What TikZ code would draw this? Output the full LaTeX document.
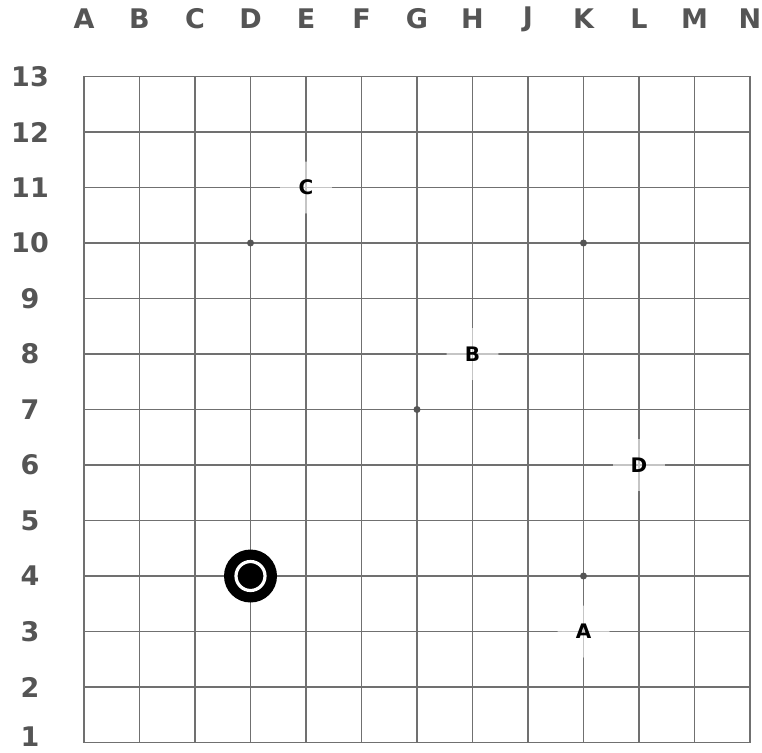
\documentclass[tikz,border=0pt]{standalone}
\usepackage{fontspec}
\setmainfont{DejaVu Sans}
\definecolor{lbl}{HTML}{555555}
\definecolor{gridc}{HTML}{707070}
\definecolor{starc}{HTML}{555555}
\begin{document}
\begin{tikzpicture}[x=1pt,y=-1pt,
  coordlabel/.style={text=lbl,font=\fontsize{27}{27}\selectfont\bfseries,inner sep=0pt},
  gridline/.style={draw=gridc,line width=1.3pt},
  starpt/.style={circle,fill=starc,inner sep=0pt,minimum size=7pt},
  marklabel/.style={circle,fill=white,fill opacity=0.6,text opacity=1,text=black,font=\fontsize{20}{20}\selectfont\bfseries,inner sep=0pt,minimum size=52pt}
]
\useasboundingbox (0,0) rectangle (762,752);
\fill[white] (0,0) rectangle (762,752);
% grid
\foreach \i in {0,...,12}{
  \draw[gridline] ({84+55.5*\i},76.5) -- ({84+55.5*\i},742.5);
  \draw[gridline] (84,{76.5+55.5*\i}) -- (750,{76.5+55.5*\i});
}
\draw[draw=gridc,line width=1.8pt] (84,76.5) rectangle (750,742.5);
% column labels
\foreach \l [count=\i from 0] in {A,B,C,D,E,F,G,H,J,K,L,M,N}{
  \node[coordlabel] (col\l) at ({84+55.5*\i},19) {\l};
}
% row labels
\foreach \r in {2,...,13}{
  \node[coordlabel] (row\r) at (30,{76.5+55.5*(13-\r)}) {\r};
}
\node[coordlabel] (row1) at (30,736.5) {1};
% star points
\node[starpt] (sD10) at (250.5,243) {};
\node[starpt] (sK10) at (583.5,243) {};
\node[starpt] (sG7) at (417,409.5) {};
\node[starpt] (sK4) at (583.5,576) {};
% stone
\node[circle,fill=black,inner sep=0pt,minimum size=53pt] (stone) at (250.5,576) {};
\draw[white,line width=3.2pt] (stone.center) circle (14.5);
% markers
\node[marklabel] (mC) at (306,187.5) {C};
\node[marklabel] (mB) at (472.5,354) {B};
\node[marklabel] (mD) at (639,465) {D};
\node[marklabel] (mA) at (583.5,631.5) {A};
\end{tikzpicture}
\end{document}
